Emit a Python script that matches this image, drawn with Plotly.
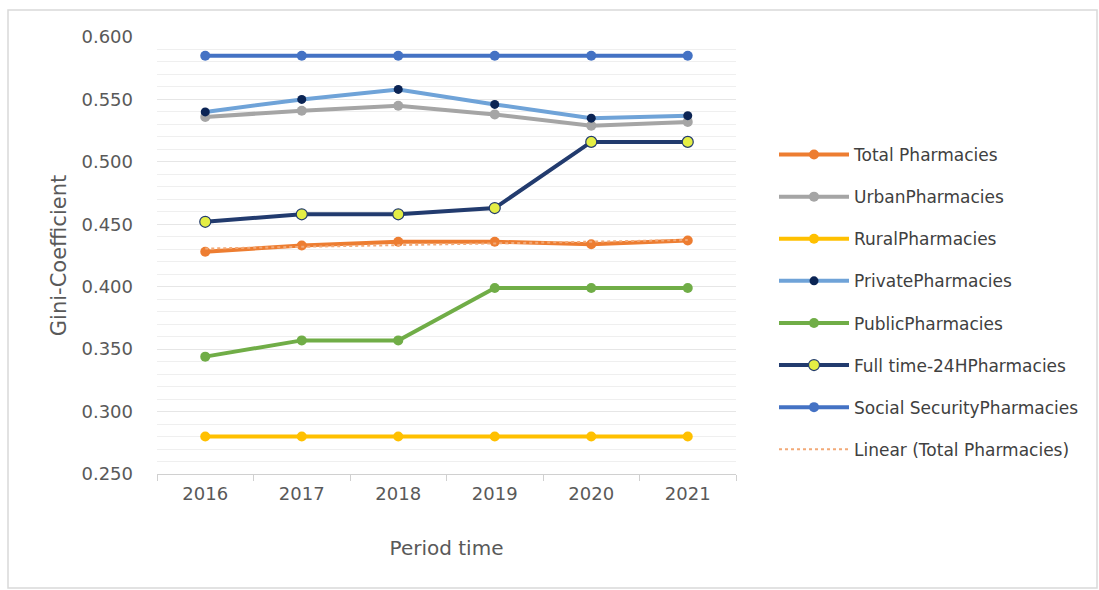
import numpy as np
import plotly.graph_objects as go

years = ["2016", "2017", "2018", "2019", "2020", "2021"]
total = [0.428, 0.433, 0.436, 0.436, 0.434, 0.437]
urban = [0.536, 0.541, 0.545, 0.538, 0.529, 0.532]
rural = [0.280, 0.280, 0.280, 0.280, 0.280, 0.280]
private = [0.540, 0.550, 0.558, 0.546, 0.535, 0.537]
public = [0.344, 0.357, 0.357, 0.399, 0.399, 0.399]
fulltime = [0.452, 0.458, 0.458, 0.463, 0.516, 0.516]
social = [0.585, 0.585, 0.585, 0.585, 0.585, 0.585]

# linear trend of Total Pharmacies
xi = np.arange(len(years))
coef = np.polyfit(xi, total, 1)
trend = list(np.polyval(coef, xi))

FONT = "DejaVu Sans"
fig = go.Figure()

def add(name, y, color, msize=10, mcolor=None, mline=None, width=4):
    fig.add_trace(go.Scatter(
        x=years, y=y, name=name, mode="lines+markers",
        line=dict(color=color, width=width),
        marker=dict(size=msize, color=mcolor or color,
                    line=dict(color=mline or (mcolor or color), width=1.2 if mline else 0)),
        legendgroup=name,
    ))

add("Total Pharmacies", total, "#ED7D31")
add("UrbanPharmacies", urban, "#A5A5A5")
add("RuralPharmacies", rural, "#FFC000")
add("PrivatePharmacies", private, "#6FA3D8", msize=9, mcolor="#0B2454")
add("PublicPharmacies", public, "#70AD47")
add("Full time-24HPharmacies", fulltime, "#223B6E", msize=11, mcolor="#E4EE45", mline="#223B6E")
add("Social SecurityPharmacies", social, "#4472C4")
fig.add_trace(go.Scatter(
    x=years, y=trend, name="Linear (Total Pharmacies)", mode="lines",
    line=dict(color="#F2A977", width=2, dash="dot"), legendgroup="trend",
))

L, R, T, B = 157, 363, 37, 116
W, H = 1099, 590
pw, ph = W - L - R, H - T - B
def px(x): return (x - L) / pw
def py(y): return (H - B - y) / ph

fig.update_layout(
    width=W, height=H,
    margin=dict(l=L, r=R, t=T, b=B, pad=0),
    paper_bgcolor="white", plot_bgcolor="white",
    font=dict(family=FONT, color="#595959", size=15),
    showlegend=True,
    legend=dict(x=px(774), y=py(137), xanchor="left", yanchor="top",
                font=dict(size=17, color="#404040", family=FONT),
                tracegroupgap=17, itemwidth=70, bgcolor="rgba(0,0,0,0)"),
    xaxis=dict(type="category", range=[-0.5, 5.5], showgrid=False,
               showline=True, linecolor="#D0D0D0", linewidth=1,
               ticks="outside", tickson="boundaries", ticklen=6, tickcolor="#D0D0D0",
               ticklabelstandoff=3,
               tickfont=dict(size=18, color="#595959"),
               title=dict(text="Period time", font=dict(size=20, color="#595959"), standoff=38)),
    yaxis=dict(range=[0.25, 0.6], dtick=0.05, tick0=0.25, tickformat=".3f",
               showgrid=True, gridcolor="#E6E6E6", gridwidth=1,
               minor=dict(dtick=0.01, showgrid=True, gridcolor="#EFEFEF", gridwidth=1),
               zeroline=False, showline=False, ticks="",
               ticklabelstandoff=23,
               tickfont=dict(size=18, color="#595959"),
               title=dict(text="Gini-Coefficient", font=dict(size=21, color="#595959"), standoff=9)),
    shapes=[dict(type="rect", xref="paper", yref="paper",
                 x0=px(8), x1=px(1097), y0=py(588), y1=py(10),
                 line=dict(color="#D9D9D9", width=1.5), layer="below")],
)

fig.write_html("out.html")
